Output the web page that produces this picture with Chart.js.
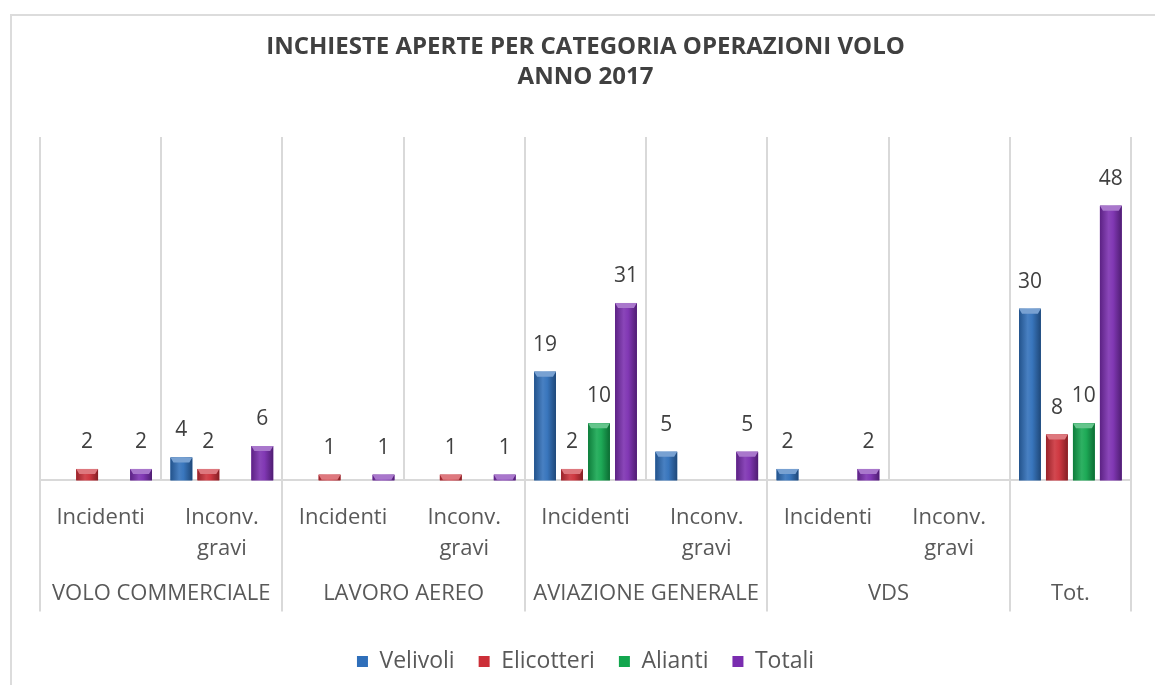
<!DOCTYPE html>
<html lang="it">
<head>
<meta charset="utf-8">
<title>Inchieste aperte per categoria operazioni volo - 2017</title>
<script src="https://cdn.jsdelivr.net/npm/chart.js@4.4.1/dist/chart.umd.min.js"></script>
<style>
  html, body { margin: 0; padding: 0; background: #fff; }
  #wrap { position: relative; width: 1155px; height: 685px; }
</style>
</head>
<body>
<div id="wrap"><canvas id="chart" width="1155" height="685"></canvas></div>
<script>
// --- dati ---
const titleLines = ['INCHIESTE APERTE PER CATEGORIA OPERAZIONI VOLO', 'ANNO 2017'];
const subLabels = ['Incidenti', ['Inconv.', 'gravi'], 'Incidenti', ['Inconv.', 'gravi'],
                   'Incidenti', ['Inconv.', 'gravi'], 'Incidenti', ['Inconv.', 'gravi'], ''];
const groupLabels = ['VOLO COMMERCIALE', 'LAVORO AEREO', 'AVIAZIONE GENERALE', 'VDS', 'Tot.'];
const groupSpans = [2, 2, 2, 2, 1];
const seriesNames = ['Velivoli', 'Elicotteri', 'Alianti', 'Totali'];
const velivoli   = [null, 4, null, null, 19, 5, 2, null, 30];
const elicotteri = [2, 2, 1, 1, 2, null, null, null, 8];
const alianti    = [null, null, null, null, 10, null, null, null, 10];
const totali     = [2, 6, 1, 1, 31, 5, 2, null, 48];
const seriesColors = ['#2f6fba', '#cc2f38', '#12a64e', '#7a2db0'];

const FONT = "'Open Sans', 'DejaVu Sans', sans-serif";
const GRID = '#d9d9d9';

// schiarisce/scurisce un colore esadecimale
function shade(hex, amt) {
    const n = parseInt(hex.slice(1), 16);
    const ch = [(n >> 16) & 255, (n >> 8) & 255, n & 255].map(c => {
        const v = amt < 0 ? c * (1 + amt) : c + (255 - c) * amt;
        return Math.max(0, Math.min(255, Math.round(v)));
    });
    return `rgb(${ch[0]},${ch[1]},${ch[2]})`;
}

// cornice, separatori di categoria, etichette di gruppo, valori ed effetto 3D delle barre
const excelLook = {
    id: 'excelLook',
    beforeDraw(chart) {
        const c = chart.ctx;
        c.save();
        c.fillStyle = '#fff';
        c.fillRect(0, 0, chart.width, chart.height);
        c.strokeStyle = '#dcdcdc';
        c.lineWidth = 2;
        c.beginPath();
        c.moveTo(11, chart.height);
        c.lineTo(11, 15);
        c.lineTo(chart.width, 15);
        c.stroke();
        c.restore();
    },
    beforeDatasetsDraw(chart) {
        const c = chart.ctx;
        const xs = chart.scales.x;
        const area = chart.chartArea;
        const n = subLabels.length;
        const groupEdges = [0];
        groupSpans.reduce((acc, s) => { groupEdges.push(acc + s); return acc + s; }, 0);

        c.save();
        c.strokeStyle = GRID;
        c.lineWidth = 2;
        for (let i = 0; i <= n; i++) {
            const x = Math.round(xs.getPixelForValue(i - 0.5));
            const bottom = groupEdges.includes(i) ? area.bottom + 131 : area.bottom;
            c.beginPath();
            c.moveTo(x, area.top);
            c.lineTo(x, bottom);
            c.stroke();
        }

        // seconda riga dell'asse: gruppi
        c.fillStyle = '#595959';
        c.font = `22px ${FONT}`;
        c.textAlign = 'center';
        c.textBaseline = 'middle';
        groupLabels.forEach((lbl, g) => {
            const x0 = xs.getPixelForValue(groupEdges[g] - 0.5);
            const x1 = xs.getPixelForValue(groupEdges[g + 1] - 0.5);
            c.fillText(lbl, (x0 + x1) / 2, area.bottom + 113);
        });
        c.restore();
    },
    afterDatasetsDraw(chart) {
        const c = chart.ctx;
        c.save();
        chart.data.datasets.forEach((ds, di) => {
            const meta = chart.getDatasetMeta(di);
            if (meta.hidden) return;
            const base = ds.backgroundColor;
            meta.data.forEach((bar, i) => {
                const v = ds.data[i];
                if (v === null || v === undefined) return;
                const { x, y, base: b, width } = bar.getProps(['x', 'y', 'base', 'width'], true);
                const l = x - width / 2;
                const h = b - y;

                // faccia frontale sfumata
                const g = c.createLinearGradient(l, 0, l + width, 0);
                g.addColorStop(0, shade(base, -0.25));
                g.addColorStop(0.4, shade(base, 0.12));
                g.addColorStop(0.6, shade(base, 0.05));
                g.addColorStop(1, shade(base, -0.35));
                c.fillStyle = g;
                c.fillRect(l, y, width, h);

                // faccia superiore
                const capH = Math.min(5, h);
                c.fillStyle = shade(base, 0.35);
                c.beginPath();
                c.moveTo(l, y);
                c.lineTo(l + width, y);
                c.lineTo(l + width - 3, y + capH);
                c.lineTo(l + 3, y + capH);
                c.closePath();
                c.fill();

                // valore sopra la barra
                c.fillStyle = '#404040';
                c.font = `21px ${FONT}`;
                c.textAlign = 'center';
                c.textBaseline = 'middle';
                c.fillText(String(v), x, y - 27);
            });
        });
        c.restore();
    }
};

const seriesData = [velivoli, elicotteri, alianti, totali];

new Chart(document.getElementById('chart'), {
    type: 'bar',
    data: {
        labels: subLabels,
        datasets: seriesNames.map((name, i) => ({
            label: name,
            data: seriesData[i],
            backgroundColor: seriesColors[i],
            borderWidth: 0,
            categoryPercentage: 0.89,
            barPercentage: 0.81
        }))
    },
    options: {
        responsive: false,
        animation: false,
        layout: { padding: { left: 40, right: 24, top: 0, bottom: 2 } },
        plugins: {
            title: {
                display: true,
                text: titleLines,
                color: '#404040',
                font: { family: FONT, size: 24, weight: 'bold', lineHeight: 1.25 },
                padding: { top: 32, bottom: 45 }
            },
            legend: {
                position: 'bottom',
                labels: {
                    color: '#595959',
                    boxWidth: 11,
                    boxHeight: 11,
                    padding: 24,
                    font: { family: FONT, size: 23 }
                }
            },
            tooltip: { enabled: false }
        },
        scales: {
            x: {
                grid: { display: false, drawTicks: false },
                border: { display: true, color: GRID, width: 2 },
                ticks: {
                    color: '#595959',
                    font: { family: FONT, size: 22, lineHeight: 1.4 },
                    padding: 22,
                    maxRotation: 0,
                    autoSkip: false
                },
                afterFit: (scale) => { scale.height += 40; }
            },
            y: { display: false, min: 0, max: 60 }
        }
    },
    plugins: [excelLook]
});
</script>
</body>
</html>
